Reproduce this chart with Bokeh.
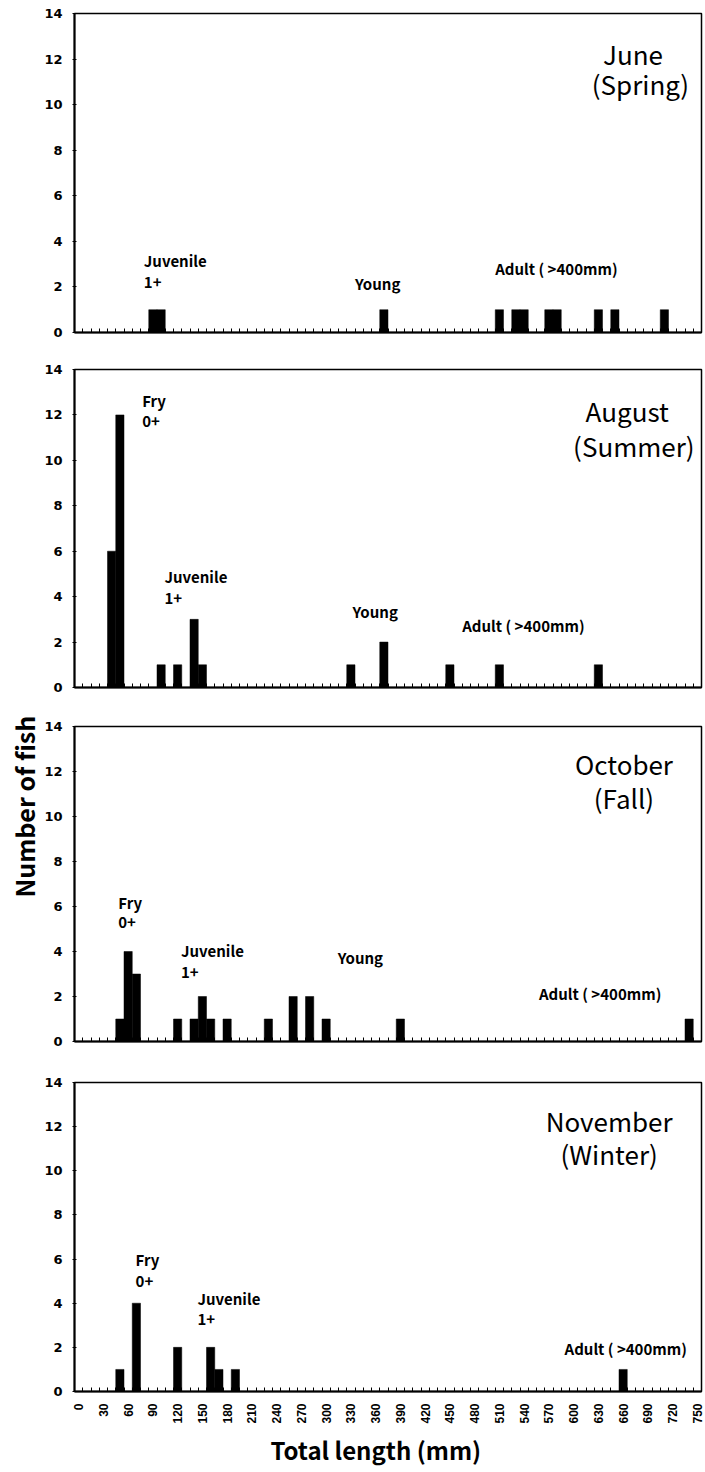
import math
from bokeh.plotting import figure
from bokeh.models import Range1d, FixedTicker, Label, Title
from bokeh.layouts import column
from bokeh.embed import file_html
from bokeh.resources import INLINE

# ---------------- data ----------------
x_tick_labels = list(range(0, 751, 30))
y_tick_labels = [0, 2, 4, 6, 8, 10, 12, 14]

june_len = [90, 100, 370, 510, 530, 540, 570, 580, 630, 650, 710]
june_cnt = [1, 1, 1, 1, 1, 1, 1, 1, 1, 1, 1]

aug_len = [40, 50, 100, 120, 140, 150, 330, 370, 450, 510, 630]
aug_cnt = [6, 12, 1, 1, 3, 1, 1, 2, 1, 1, 1]

oct_len = [50, 60, 70, 120, 140, 150, 160, 180, 230, 260, 280, 300, 390, 740]
oct_cnt = [1, 4, 3, 1, 1, 2, 1, 1, 1, 2, 2, 1, 1, 1]

nov_len = [50, 70, 120, 160, 170, 190, 660]
nov_cnt = [1, 4, 2, 2, 1, 1, 1]

june_title = ["June", "(Spring)"]
aug_title = ["August", "(Summer)"]
oct_title = ["October", "(Fall)"]
nov_title = ["November", "(Winter)"]

# annotation texts with their placement (mm, count)
june_notes = [("Juvenile", 79, 3.16), ("1+", 79, 2.2), ("Young", 335, 2.15),
              ("Adult ( >400mm)", 505, 2.8)]
aug_notes = [("Fry", 77, 12.65), ("0+", 77, 11.7), ("Juvenile", 104, 4.87),
             ("1+", 104, 3.93), ("Young", 332, 3.33), ("Adult ( >400mm)", 465, 2.74)]
oct_notes = [("Fry", 48, 6.2), ("0+", 48, 5.3), ("Juvenile", 124, 4.05),
             ("1+", 124, 3.08), ("Young", 314, 3.75), ("Adult ( >400mm)", 558, 2.13)]
nov_notes = [("Fry", 69, 5.98), ("0+", 69, 5.0), ("Juvenile", 144, 4.2),
             ("1+", 144, 3.26), ("Adult ( >400mm)", 589, 1.97)]

# ---------------- styling ----------------
FONT = "Noto Sans CJK JP"
BIN = 10
minor_marks = [v - BIN / 2 for v in range(0, 761, BIN)]


def make_panel(lengths, counts, notes, title, title_pos, top_b, frame_h, bot_b, show_x):
    p = figure(width=705, height=top_b + frame_h + bot_b,
               x_range=Range1d(-5, 755), y_range=Range1d(0, 14),
               output_backend="svg", toolbar_location=None,
               min_border_left=74, min_border_right=4,
               min_border_top=top_b, min_border_bottom=bot_b)
    p.xgrid.visible = False
    p.ygrid.visible = False
    p.outline_line_color = "black"
    p.outline_line_width = 1.5
    p.background_fill_color = "white"

    p.vbar(x=lengths, top=counts, width=BIN, bottom=0,
           fill_color="black", line_color="black", line_width=0.5)

    # y axis
    p.yaxis.ticker = FixedTicker(ticks=y_tick_labels)
    p.yaxis.axis_line_width = 2
    p.yaxis.major_tick_in = 2
    p.yaxis.major_tick_out = 2
    p.yaxis.minor_tick_line_color = None
    p.yaxis.major_label_standoff = 10
    p.yaxis.major_label_text_font = "DejaVu Sans"
    p.yaxis.major_label_text_font_style = "bold"
    p.yaxis.major_label_text_font_size = "13px"
    p.yaxis.major_label_text_color = "black"

    # x axis
    if show_x:
        p.xaxis.ticker = FixedTicker(ticks=x_tick_labels, minor_ticks=minor_marks)
        p.xaxis.major_label_orientation = math.pi / 2
        p.xaxis.major_label_standoff = 12
        p.xaxis.major_label_text_font = "Liberation Sans"
        p.xaxis.major_label_text_font_style = "bold"
        p.xaxis.major_label_text_font_size = "12px"
        p.xaxis.major_label_text_color = "black"
    else:
        p.xaxis.ticker = FixedTicker(ticks=[], minor_ticks=minor_marks)
    p.xaxis.axis_line_width = 2
    p.xaxis.major_tick_in = 0
    p.xaxis.major_tick_out = 0
    p.xaxis.minor_tick_in = 4
    p.xaxis.minor_tick_out = 0
    p.xaxis.minor_tick_line_color = "black"

    for txt, xx, yy in notes:
        p.add_layout(Label(x=xx, y=yy, text=txt, text_align="left",
                           text_baseline="middle", text_font=FONT,
                           text_font_style="bold",
                           text_font_size="15px", text_color="black"))
    for txt, (xx, yy) in zip(title, title_pos):
        p.add_layout(Label(x=xx, y=yy, text=txt, text_align="center",
                           text_baseline="middle", text_font=FONT,
                           text_font_size="26px", text_color="black"))
    return p


p1 = make_panel(june_len, june_cnt, june_notes, june_title,
                [(672, 12.25), (681, 10.93)], 13, 319, 17, False)
p2 = make_panel(aug_len, aug_cnt, aug_notes, aug_title,
                [(665, 12.19), (673, 10.65)], 20, 318, 19, False)
p3 = make_panel(oct_len, oct_cnt, oct_notes, oct_title,
                [(661, 12.34), (661, 10.86)], 20, 315, 20, False)
p4 = make_panel(nov_len, nov_cnt, nov_notes, nov_title,
                [(643, 12.28), (643, 10.79)], 21, 311, 76, True)

ytitle = Title(text="Number of fish", align="left", offset=144,
               text_font=FONT, text_font_size="25px", text_font_style="bold",
               text_color="black", standoff=0)
p3.add_layout(ytitle, "left")

xtitle = Title(text="Total length (mm)", align="left", offset=196,
               text_font=FONT, text_font_size="24px", text_font_style="bold",
               text_color="black", standoff=6)
p4.add_layout(xtitle, "below")

layout = column(p1, p2, p3, p4, spacing=0)
open("out.html", "w").write(file_html(layout, INLINE))
